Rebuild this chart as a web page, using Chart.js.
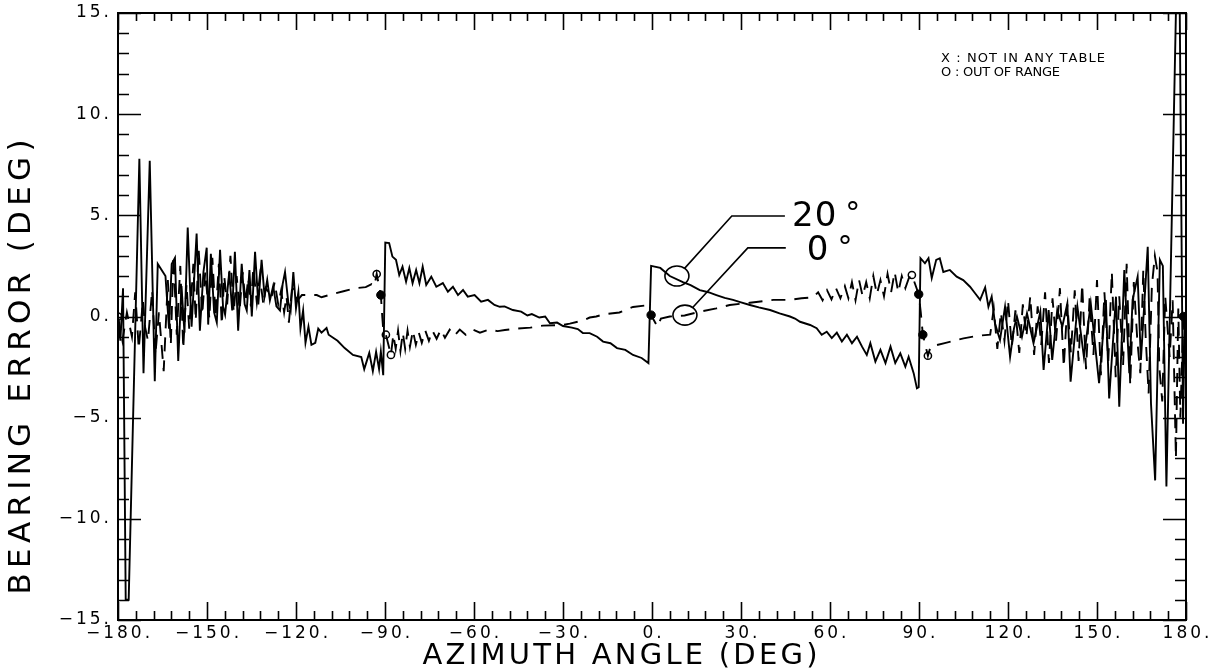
<!DOCTYPE html>
<html>
<head>
<meta charset="utf-8">
<script src="https://cdn.jsdelivr.net/npm/chart.js@4.4.1/dist/chart.umd.min.js"></script>
<style>
  html, body { margin: 0; padding: 0; background: #fff; }
  #wrap { width: 1223px; height: 672px; }
</style>
</head>
<body>
<div id="wrap"><canvas id="bearingChart" width="1223" height="672"></canvas></div>
<script>
// Axis ticks (labelled majors) and minor tick steps
const xMajorTicks = [-180, -150, -120, -90, -60, -30, 0, 30, 60, 90, 120, 150, 180];
const yMajorTicks = [-15, -10, -5, 0, 5, 10, 15];
const xMinorStep = 6;
const yMinorStep = 1;

// Bearing error vs azimuth, 20 deg case (solid) — [azimuth, error]
const solid20 = [
  [-180, 0], [-179.2, -1.2], [-178.3, 1.4], [-177.4, -14], [-176.4, -14], [-172.8, 7.8], [-171.4, -2.8],
  [-169.3, 7.7], [-167.6, -3.2], [-166.6, 2.6], [-164.0, 2.0], [-162.8, -0.6], [-161.9, 2.6], [-160.8, 2.9],
  [-159.7, -2.2], [-158.6, 1.5], [-157.6, -0.8], [-156.5, 4.4], [-155.2, -0.5], [-153.5, 4.1], [-152.4, -0.7],
  [-151.2, 2.2], [-150.1, 3.4], [-149.6, -0.4], [-148.7, 3.1], [-147.6, 0.2], [-146.7, -0.3], [-145.6, 3.3],
  [-144.6, 0.5], [-143.9, 0.1], [-142.5, 2.2], [-141.5, 0.3], [-140.6, 3.2], [-139.5, -0.7], [-138.3, 2.6],
  [-137.3, 0.6], [-136.6, 0.3], [-135.7, 2.3], [-134.9, 0.0], [-133.8, 3.2], [-132.7, 0.6], [-131.6, 2.8],
  [-130.6, 1.0], [-129.7, 1.8], [-128.8, 0.8], [-127.7, 1.5], [-126.6, 0.5], [-125.4, 0.3], [-124.5, 1.6],
  [-123.7, 2.2], [-122.6, 0.7], [-121.8, 0.3], [-120.9, 2.2], [-120.0, 0.4], [-119.2, 1.2], [-118.5, -0.6],
  [-117.6, 0.3], [-116.8, -1.3], [-115.8, -0.5], [-114.8, -1.4], [-113.5, -1.3], [-112.5, -0.6], [-111.4, -0.8],
  [-109.7, -0.57], [-109.0, -0.9], [-106, -1.2], [-103.6, -1.56], [-100.8, -1.9], [-98, -2.0], [-97, -2.6],
  [-95.3, -1.8], [-94.1, -2.7], [-93, -1.75], [-92, -2.6], [-91.4, -1.74], [-90.6, -2.9], [-89.9, 3.65],
  [-88.6, 3.63], [-87.5, 2.96], [-86.3, 2.8], [-85.2, 2.05], [-84.1, 2.46], [-82.9, 1.72], [-81.8, 2.4],
  [-80.7, 1.65], [-79.5, 2.3], [-78.4, 1.65], [-77.3, 2.46], [-76.1, 1.56], [-74.4, 1.97], [-72.7, 1.47],
  [-70.5, 1.65], [-68.8, 1.23], [-67.1, 1.47], [-65.4, 1.06], [-63.7, 1.31], [-62.1, 0.98], [-59.8, 1.06],
  [-57.6, 0.73], [-55.3, 0.82], [-53.1, 0.57], [-51.3, 0.48], [-49.7, 0.5], [-46.9, 0.32], [-44.1, 0.24],
  [-42, 0.05], [-40.5, 0.12], [-38, -0.05], [-36, 0.0], [-34.4, -0.33], [-32, -0.3], [-30, -0.47],
  [-27, -0.55], [-25, -0.62], [-23.3, -0.82], [-21, -0.82], [-18.5, -1.0], [-16.5, -1.24], [-14, -1.32],
  [-11.8, -1.56], [-9, -1.65], [-6.4, -1.9], [-3.5, -2.05], [-1.2, -2.3], [-0.3, 2.5], [2.8, 2.4],
  [6, 2.0], [10.4, 1.7], [13, 1.55], [16.1, 1.3], [19, 1.2], [21.7, 1.06], [24.5, 0.92], [27.3, 0.82],
  [30, 0.7], [33, 0.57], [36, 0.45], [39.8, 0.32], [43, 0.15], [46.5, 0], [48.2, -0.1], [49.9, -0.26],
  [53.3, -0.42], [55.5, -0.58], [57.2, -0.9], [58.9, -0.75], [60.6, -1.07], [62.3, -0.8], [64, -1.24],
  [65.7, -0.9], [67.4, -1.32], [69.1, -1.0], [70.8, -1.49], [72.4, -1.9], [73.6, -1.32], [75.3, -2.23],
  [77, -1.65], [78.7, -2.3], [80.4, -1.49], [82, -2.3], [83.7, -1.82], [85.4, -2.48], [86.5, -1.99],
  [88.2, -2.8], [89.3, -3.55], [89.9, -3.5], [90.5, 2.88], [92, 2.63], [93.2, 2.88], [94.3, 1.9],
  [95.8, 2.8], [97, 2.88], [98.2, 2.2], [100.4, 2.3], [102.7, 1.97], [104.9, 1.8], [107.2, 1.47],
  [108.9, 1.15], [110.6, 0.82], [112.3, 1.44], [113.4, 0.48], [114.5, 0.98], [115.6, -0.34],
  [117.3, -1.16], [119, 0.48], [120.7, -2.0], [122, -0.6], [123, 0], [124.7, -1.0], [126.4, 0.16],
  [128.6, -1.32], [130.9, 0.24], [132, -2.64], [133.7, 0.32], [134.9, -2.15], [136.6, 0.32], [138.3, -0.5],
  [140, 0.65], [141.1, -3.22], [143.4, 0.48], [145.6, -2.0], [147.9, 0.65], [150.7, -3.3], [153, 0.82],
  [154.1, -4.05], [156.4, 0.98], [157.5, -4.46], [159.2, 2.3], [160.9, -2.8], [162, 0.82], [163.7, 1.97],
  [164.8, -2.15], [167.1, 3.45], [168.2, -4.3], [169.6, -8.1], [171.2, 2.8], [172.2, 2.5], [173.4, -8.4],
  [176.6, 15], [177.9, 15], [179.0, -5.3], [179.6, 0]
];

// Bearing error vs azimuth, 0 deg case (dashed) — [azimuth, error]
const dashed0 = [
  [-180, 0], [-179.5, -0.4], [-178.5, -1.2], [-177, 0.2], [-175.3, -1.0], [-174.2, 1.2], [-173, -1.6],
  [-171.6, 0.8], [-170.9, -0.5], [-169.9, -1.2], [-168.5, 1.3], [-167.4, -1.9], [-166.2, 0.2], [-164.6, -2.7],
  [-163.2, 1.8], [-162.2, -1.4], [-161.3, 3.0], [-160.2, -0.9], [-159.0, 2.5], [-158.0, -1.6], [-156.9, 1.6],
  [-156.0, -0.6], [-154.6, 2.6], [-153.8, -0.2], [-152.8, 3.3], [-151.6, 0.1], [-150.6, 2.2], [-149.2, -0.1],
  [-148.2, 2.9], [-147.1, 0.0], [-146.0, 2.6], [-145.0, -0.4], [-144.2, 2.0], [-143.2, 0.6], [-142.1, 3.0],
  [-141.0, 0.2], [-140.0, 2.0], [-139.0, 0.3], [-138.0, 2.2], [-137.0, 0.7], [-136.1, 1.9], [-135.2, 0.5],
  [-134.4, 2.4], [-133.2, 0.7], [-132.2, 2.0], [-131.0, 0.6], [-130.2, 1.4], [-129.2, 1.2], [-128.3, 0.9],
  [-127.2, 1.7], [-126.0, 0.6], [-125.0, 1.3], [-124.0, 0.2], [-123.2, 1.0], [-122.4, -0.3], [-121.4, 1.3],
  [-120.6, 1.4], [-119.5, 0.8], [-118.0, 1.06], [-113.0, 1.06], [-111.4, 0.95], [-108, 1.1], [-104, 1.25],
  [-100, 1.4], [-96.5, 1.45], [-94.5, 1.6], [-93.6, 1.5], [-92.8, 2.1], [-91.4, 1.06], [-90.9, -0.05],
  [-90.6, -0.65], [-89.7, -0.9], [-88.0, -1.9], [-87.2, -0.9], [-86.4, -1.6], [-85.6, -0.7], [-84.8, -1.7],
  [-84.0, -0.8], [-83.2, -1.6], [-82.4, -0.7], [-81.6, -1.5], [-80.6, -0.7], [-79.6, -1.4], [-78.6, -0.8],
  [-77.6, -1.3], [-76.4, -0.7], [-75.2, -1.2], [-74.0, -0.7], [-72.6, -1.1], [-71.2, -0.65], [-69.8, -1.05],
  [-68.2, -0.65], [-66.6, -0.95], [-64.8, -0.65], [-62.8, -0.9], [-60.4, -0.65], [-58, -0.8], [-55, -0.65],
  [-52, -0.72], [-49.6, -0.67], [-45.5, -0.6], [-41, -0.55], [-36.8, -0.45], [-30, -0.42], [-27.7, -0.35],
  [-23.3, -0.2], [-21, -0.05], [-18.8, 0.0], [-16.5, 0.1], [-11, 0.2], [-6.4, 0.47], [-2, 0.55],
  [-1.2, 0.3], [-0.4, 0.07], [0.6, -0.17], [1.8, -0.5], [3, -0.1], [6, 0.0], [11, 0.05], [16.1, 0.24],
  [21.7, 0.4], [26.2, 0.57], [33, 0.68], [40.9, 0.82], [46.5, 0.82], [50.4, 0.9], [54.3, 0.95],
  [56, 1.2], [57.5, 0.8], [59, 1.3], [60.5, 0.85], [62, 1.4], [63.5, 0.9], [65, 1.5], [66.2, 0.9],
  [67.4, 1.7], [68.6, 0.8], [69.8, 1.8], [71, 1.0], [72.2, 1.7], [73.4, 0.9], [74.6, 2.0], [75.8, 1.1],
  [77, 1.8], [78.2, 1.0], [79.4, 2.1], [80.6, 1.2], [81.8, 2.2], [83, 1.2], [84.2, 2.0], [85.4, 1.4],
  [86.6, 1.9], [87.6, 2.05], [89.9, 1.1], [90.6, 0.2], [91.3, -0.9], [93, -1.94], [93.9, -1.49],
  [99, -1.3], [105, -1.08], [110, -0.95], [114, -0.9], [115.2, 0.4], [116.4, -1.6], [117.6, 0.2],
  [118.8, -1.2], [120, 0.8], [121.3, -1.5], [122.5, 0.3], [123.8, -1.8], [125, 0.6], [126.2, -1.0],
  [127.5, 1.0], [128.8, -1.9], [130, 0.5], [131.2, -1.4], [132.5, 1.2], [133.8, -2.3], [135, 0.9],
  [136.2, -1.2], [137.5, 1.4], [138.8, -2.5], [140, 0.6], [141.2, -1.8], [142.5, 1.3], [143.8, -2.2],
  [145, 1.6], [146.3, -2.6], [147.5, 0.9], [148.8, -1.9], [150, 1.8], [151.3, -2.9], [152.5, 1.2],
  [153.8, -2.2], [155, 2.2], [156.3, -3.0], [157.5, 1.0], [158.8, -2.4], [160, 2.6], [161.2, -3.4],
  [162.4, 1.7], [163.6, -1.2], [164.6, -2.8], [165.6, 2.3], [166.4, -1.0], [167.4, -3.8], [168.5, 1.5],
  [169.5, 3.0], [170.4, 2.2], [171.0, -2.5], [172, -4.2], [173, 1.0], [174.5, -2.0], [175.5, 0.8],
  [176.6, -7.0], [177.4, 0.4], [178.1, -5.0], [179.1, 0.0]
];

// "O : out of range" markers and the dark (overplotted) markers
const outOfRange = [[-180, 0], [-92.8, 2.1], [-89.7, -0.9], [-88.0, -1.9], [87.6, 2.05], [93, -1.94]];
const darkMarks = [[-91.4, 1.06], [-0.3, 0.07], [89.9, 1.1], [91.3, -0.9], [179.1, 0.0]];

// Curve identification callouts: ring on the curve, leader elbow, leader end, label
const callouts = [
  { value: "20", ring: [8.4, 2.0], elbow: [26.9, 4.97], end: [44.8, 4.97], text: [47.2, 4.92] },
  { value: "0", ring: [11.1, 0.07], elbow: [32.3, 3.39], end: [45.1, 3.39], text: [52.2, 3.24] }
];

const legendLines = ["X : NOT IN ANY TABLE", "O : OUT OF RANGE"];

const toXY = pts => pts.map(p => ({ x: p[0], y: p[1] }));
const fmtTick = v => (v < 0 ? "\u2212" + Math.abs(v) : String(v)) + ".";

// draw text with extra letter spacing; if target given, spacing is fitted to that width
function spacedText(ctx, text, x, y, spacing, align, target) {
  const chars = [...text];
  const widths = chars.map(ch => ctx.measureText(ch).width);
  const raw = widths.reduce((a, b) => a + b, 0);
  if (target) spacing = (target - raw) / Math.max(1, chars.length - 1);
  const total = raw + spacing * (chars.length - 1);
  let cx = align === "center" ? x - total / 2 : align === "right" ? x - total : x;
  ctx.textAlign = "left";
  chars.forEach((ch, i) => {
    ctx.fillText(ch, cx, y);
    cx += widths[i] + spacing;
  });
  return cx;
}

const framePlugin = {
  id: "plotFrame",
  afterDraw(chart) {
    const { ctx, chartArea: a, scales } = chart;
    const xs = scales.x, ys = scales.y;
    ctx.save();
    ctx.strokeStyle = "#000";
    ctx.fillStyle = "#000";
    ctx.lineWidth = 2;
    ctx.strokeRect(a.left, a.top, a.right - a.left, a.bottom - a.top);

    // inward ticks on all four sides
    ctx.lineWidth = 1.6;
    ctx.beginPath();
    for (let v = xs.min; v <= xs.max + 1e-9; v += xMinorStep) {
      const px = Math.round(xs.getPixelForValue(v)) + 0.5;
      const major = xMajorTicks.includes(v);
      ctx.moveTo(px, a.bottom); ctx.lineTo(px, a.bottom - (major ? 18 : 9));
      ctx.moveTo(px, a.top); ctx.lineTo(px, a.top + (major ? 17 : 8));
    }
    for (let v = ys.min; v <= ys.max + 1e-9; v += yMinorStep) {
      const py = Math.round(ys.getPixelForValue(v)) + 0.5;
      const major = yMajorTicks.includes(v);
      ctx.moveTo(a.left, py); ctx.lineTo(a.left + (major ? 23 : 11), py);
      ctx.moveTo(a.right, py); ctx.lineTo(a.right - (major ? 23 : 11), py);
    }
    ctx.stroke();

    // tick labels
    ctx.font = "17px 'DejaVu Sans'";
    ctx.textBaseline = "middle";
    xMajorTicks.forEach(v => spacedText(ctx, fmtTick(v), xs.getPixelForValue(v), a.bottom + 14, 3, "center"));
    yMajorTicks.forEach(v => spacedText(ctx, fmtTick(v), a.left - 9, ys.getPixelForValue(v), 3, "right"));

    // axis titles
    ctx.font = "29px 'DejaVu Sans'";
    spacedText(ctx, "AZIMUTH ANGLE (DEG)", 620, 656, 0, "center", 395);
    ctx.save();
    ctx.translate(22, 367);
    ctx.rotate(-Math.PI / 2);
    ctx.font = "31px 'DejaVu Sans'";
    spacedText(ctx, "BEARING ERROR (DEG)", 0, 0, 0, "center", 455);
    ctx.restore();

    // legend notes
    ctx.font = "13px 'DejaVu Sans'";
    spacedText(ctx, legendLines[0], 941, 59, 0, "left", 164);
    spacedText(ctx, legendLines[1], 941, 73, 0, "left", 119);

    // callouts
    callouts.forEach(c => {
      const rx = xs.getPixelForValue(c.ring[0]), ry = ys.getPixelForValue(c.ring[1]);
      const ex = xs.getPixelForValue(c.elbow[0]), ey = ys.getPixelForValue(c.elbow[1]);
      const nx = xs.getPixelForValue(c.end[0]);
      const dx = ex - rx, dy = ey - ry, d = Math.hypot(dx, dy);
      ctx.lineWidth = 1.6;
      ctx.beginPath();
      ctx.ellipse(rx, ry, 12, 10, 0, 0, Math.PI * 2);
      ctx.moveTo(rx + dx / d * 11, ry + dy / d * 10);
      ctx.lineTo(ex, ey);
      ctx.lineTo(nx, ey);
      ctx.stroke();
      ctx.font = "34px 'DejaVu Sans'";
      ctx.textBaseline = "middle";
      const tx = xs.getPixelForValue(c.text[0]), ty = ys.getPixelForValue(c.text[1]);
      const after = spacedText(ctx, c.value, tx, ty, 1, "left");
      ctx.font = "30px 'DejaVu Sans'";
      ctx.fillText("°", after + 8, ty - 2);
    });
    ctx.restore();
  }
};

const ctx = document.getElementById("bearingChart").getContext("2d");
new Chart(ctx, {
  type: "line",
  data: {
    datasets: [
      {
        label: "20°",
        data: toXY(solid20),
        borderColor: "#000",
        borderWidth: 1.9,
        pointRadius: 0,
        tension: 0,
        fill: false
      },
      {
        label: "0°",
        data: toXY(dashed0),
        borderColor: "#000",
        borderWidth: 1.9,
        borderDash: [14, 9],
        pointRadius: 0,
        tension: 0,
        fill: false
      },
      {
        label: "Out of range",
        data: toXY(outOfRange),
        showLine: false,
        pointStyle: "circle",
        pointRadius: 3.6,
        pointBackgroundColor: "#fff",
        pointBorderColor: "#000",
        pointBorderWidth: 1.5
      },
      {
        label: "Overplotted",
        data: toXY(darkMarks),
        showLine: false,
        pointStyle: "circle",
        pointRadius: 4.2,
        pointBackgroundColor: "#000",
        pointBorderColor: "#000",
        pointBorderWidth: 1
      }
    ]
  },
  options: {
    responsive: false,
    animation: false,
    devicePixelRatio: 1,
    layout: { padding: { left: 118, right: 37, top: 13, bottom: 52 } },
    plugins: {
      legend: { display: false },
      tooltip: { enabled: false }
    },
    scales: {
      x: { type: "linear", min: -180, max: 180, display: false },
      y: { type: "linear", min: -15, max: 15, display: false }
    }
  },
  plugins: [framePlugin]
});
</script>
</body>
</html>
